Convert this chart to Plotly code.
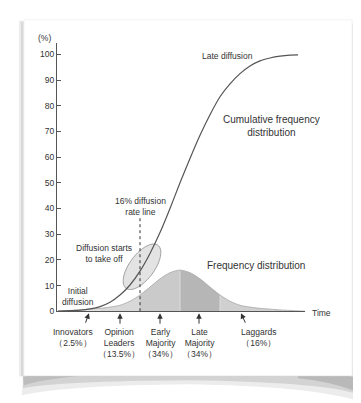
import math
import plotly.graph_objects as go

# ---------------- data ----------------
# time axis in standard-deviation units (0 = mean of adoption time)
cdf_time = [-3.05, -2.75, -2.5, -2.25, -2.0, -1.75, -1.5, -1.25, -1.0, -0.75, -0.5, -0.25,
            0.0, 0.25, 0.5, 0.75, 1.0, 1.25, 1.5, 1.75, 2.0, 2.25, 2.5, 2.75, 2.95]
cdf_pct = [0.0, 0.2, 0.4, 0.9, 1.8, 3.5, 6.3, 10.2, 15.6, 22.5, 30.6, 40.0,
           50.0, 59.5, 68.5, 76.5, 83.5, 88.5, 92.5, 95.5, 97.5, 98.6, 99.3, 99.7, 99.8]

freq_time = [-3.05, -2.75, -2.5, -2.25, -2.0, -1.75, -1.5, -1.25, -1.0, -0.75, -0.5, -0.25,
             0.0, 0.25, 0.5, 0.75, 1.0, 1.25, 1.5, 1.75, 2.0, 2.25, 2.5, 2.75, 3.125]
freq_pct = [0.0, 0.3, 0.5, 0.8, 1.1, 1.6, 2.3, 3.9, 6.3, 9.4, 12.6, 15.0,
            16.0, 15.0, 12.6, 9.4, 6.3, 3.9, 2.3, 1.6, 1.1, 0.8, 0.5, 0.3, 0.0]

segment_edges = [-3.05, -2.0, -1.0, 0.0, 1.0, 3.125]
segment_names = ["Innovators", "Opinion<br>Leaders", "Early<br>Majority", "Late<br>Majority", "Laggards"]
segment_shares = ["（2.5%）", "（13.5%）", "（34%）", "（34%）", "（16%）"]
segment_colors = ["#e2e2e2", "#d8d8d8", "#cacaca", "#b6b6b6", "#d0d0d0"]

y_ticks = [0, 10, 20, 30, 40, 50, 60, 70, 80, 90, 100]
diffusion_line_time = -1.0   # 16% diffusion rate line

# ---------------- geometry helpers ----------------
W, H = 361, 403
X0PX, X1PX = 49, 297
Y0PX, YTOPPX = 307, 35
PX_PER_X = 40.0
PX_PER_Y = 2.6
XMIN = -3.075
XMAX = XMIN + (X1PX - X0PX) / PX_PER_X
YMAX = (Y0PX - YTOPPX) / PX_PER_Y


def px2x(px):
    return XMIN + (px - X0PX) / PX_PER_X


def px2y(py):
    return (Y0PX - py) / PX_PER_Y


def pxp(px):
    return px / W


def pyp(py):
    return 1 - py / H


FONT = "Liberation Sans, Arial, sans-serif"
TXT = "#333333"

fig = go.Figure()

# frequency distribution segments
for i in range(len(segment_names)):
    lo, hi = segment_edges[i], segment_edges[i + 1]
    xs = [t for t in freq_time if lo <= t <= hi]
    ys = [v for t, v in zip(freq_time, freq_pct) if lo <= t <= hi]
    fig.add_trace(go.Scatter(x=xs, y=ys, mode="lines", fill="tozeroy",
                             fillcolor=segment_colors[i],
                             line=dict(width=0, shape="spline", smoothing=0.8),
                             hoverinfo="skip", showlegend=False))

# light separators between segments
for bnd in segment_edges[3:5]:
    idx = freq_time.index(bnd)
    fig.add_trace(go.Scatter(x=[bnd, bnd], y=[0, freq_pct[idx]], mode="lines",
                             line=dict(color="#dcdcdc", width=1),
                             hoverinfo="skip", showlegend=False))

# outline of frequency distribution
fig.add_trace(go.Scatter(x=freq_time, y=freq_pct, mode="lines",
                         line=dict(color="#a8a8a8", width=0.8, shape="spline", smoothing=0.8),
                         hoverinfo="skip", showlegend=False))

# cumulative curve
fig.add_trace(go.Scatter(x=cdf_time, y=cdf_pct, mode="lines",
                         line=dict(color="#555555", width=1.2, shape="spline", smoothing=0.8),
                         hoverinfo="skip", showlegend=False))

shapes = []
# ---- card + shadows (paper coords) ----
shapes.append(dict(type="path", xref="paper", yref="paper", layer="below",
                   path=f"M {pxp(15)},{pyp(372)} L {pxp(345)},{pyp(372)} L {pxp(347)},{pyp(397)} "
                        f"Q {pxp(300)},{pyp(383)} {pxp(180)},{pyp(381)} Q {pxp(60)},{pyp(382)} {pxp(14)},{pyp(392)} Z",
                   fillcolor="#ececec", line=dict(width=0)))
shapes.append(dict(type="path", xref="paper", yref="paper", layer="below",
                   path=f"M {pxp(15)},{pyp(372)} L {pxp(345)},{pyp(372)} L {pxp(346)},{pyp(390)} "
                        f"Q {pxp(310)},{pyp(379)} {pxp(180)},{pyp(377)} Q {pxp(50)},{pyp(378)} {pxp(15)},{pyp(385)} Z",
                   fillcolor="#d3d3d3", line=dict(width=0)))
shapes.append(dict(type="path", xref="paper", yref="paper", layer="below",
                   path=f"M {pxp(290)},{pyp(373)} L {pxp(345)},{pyp(373)} L {pxp(345)},{pyp(387)} "
                        f"Q {pxp(320)},{pyp(378)} {pxp(290)},{pyp(375)} Z",
                   fillcolor="#b9b9b9", line=dict(width=0)))
shapes.append(dict(type="path", xref="paper", yref="paper", layer="below",
                   path=f"M {pxp(15)},{pyp(373)} L {pxp(70)},{pyp(373)} "
                        f"Q {pxp(35)},{pyp(376)} {pxp(16)},{pyp(382)} Z",
                   fillcolor="#bdbdbd", line=dict(width=0)))
shapes.append(dict(type="rect", xref="paper", yref="paper", layer="below",
                   x0=pxp(11), x1=pxp(18), y0=pyp(373), y1=pyp(13),
                   fillcolor="#ececec", line=dict(width=0)))
shapes.append(dict(type="rect", xref="paper", yref="paper", layer="below",
                   x0=pxp(13), x1=pxp(16), y0=pyp(373), y1=pyp(14),
                   fillcolor="#d9d9d9", line=dict(width=0)))
shapes.append(dict(type="rect", xref="paper", yref="paper", layer="below",
                   x0=pxp(342), x1=pxp(350), y0=pyp(373), y1=pyp(15),
                   fillcolor="#eeeeee", line=dict(width=0)))
shapes.append(dict(type="rect", xref="paper", yref="paper", layer="below",
                   x0=pxp(344), x1=pxp(347), y0=pyp(373), y1=pyp(17),
                   fillcolor="#dddddd", line=dict(width=0)))
shapes.append(dict(type="rect", xref="paper", yref="paper", layer="below",
                   x0=pxp(16), x1=pxp(344), y0=pyp(372), y1=pyp(12),
                   fillcolor="#ffffff", line=dict(color="#f3f3f3", width=1)))

# ---- ellipse "diffusion starts to take off" ----
cx, cy, a, b, ang = 134.0, 262.0, 27.0, 12.5, math.radians(54)
pts = []
for k in range(0, 73):
    t = 2 * math.pi * k / 72
    ex = a * math.cos(t)
    ey = b * math.sin(t)
    px = cx + ex * math.cos(ang) - ey * math.sin(ang)
    py = cy - (ex * math.sin(ang) + ey * math.cos(ang))
    pts.append((px2x(px), px2y(py)))
path = "M " + " L ".join(f"{x:.4f},{y:.4f}" for x, y in pts) + " Z"
shapes.append(dict(type="path", xref="x", yref="y", layer="below", path=path,
                   fillcolor="#e3e3e3", line=dict(color="#8c8c8c", width=0.8)))

# ---- 16% diffusion rate line ----
shapes.append(dict(type="line", xref="x", yref="y", layer="above",
                   x0=diffusion_line_time, x1=diffusion_line_time, y0=0, y1=px2y(212),
                   line=dict(color="#333333", width=1, dash="dot")))

ann = []


def label(text, px, py, size=8.5, xanchor="center", yanchor="middle", align="center"):
    ann.append(dict(text=text, x=pxp(px), y=pyp(py), xref="paper", yref="paper",
                    showarrow=False, xanchor=xanchor, yanchor=yanchor, align=align,
                    font=dict(family=FONT, size=size, color=TXT)))


label("(%)", 36, 30)
label("Late diffusion", 219, 49)
label("Cumulative frequency<br>distribution", 263, 119.5, size=10)
label("Frequency distribution", 248, 261, size=10)
label("16% diffusion<br>rate line", 132, 200.5)
label("Diffusion starts<br>to take off", 96, 249)
label("Initial<br>diffusion", 70, 292)
label("Time", 302, 309, xanchor="left")

# bottom labels
label(segment_names[0] + "<br>" + segment_shares[0], 65, 333.5)
label(segment_names[1] + "<br>" + segment_shares[1], 111, 339)
label(segment_names[2] + "<br>" + segment_shares[2], 152, 339)
label(segment_names[3] + "<br>" + segment_shares[3], 191, 339)
label(segment_names[4] + "<br>" + segment_shares[4], 250, 333.5)

# arrows: (tip px, tip py, dx to tail, dy to tail)
for tx, ty, dx, dy in [(81, 309, -4, 11), (112, 309, 0, 12), (152, 309, 0, 12),
                       (191, 309, 0, 12), (233, 309, 5, 11)]:
    ann.append(dict(text="", x=pxp(tx), y=pyp(ty), xref="paper", yref="paper",
                    showarrow=True, ax=dx, ay=dy, arrowhead=2, arrowsize=1.1,
                    arrowwidth=1, arrowcolor="#333333", standoff=0))

fig.update_layout(
    width=W, height=H,
    margin=dict(l=0, r=0, t=0, b=0),
    paper_bgcolor="#ffffff",
    plot_bgcolor="rgba(0,0,0,0)",
    showlegend=False,
    shapes=shapes,
    annotations=ann,
    xaxis=dict(domain=[pxp(X0PX), pxp(X1PX)], range=[XMIN, XMAX],
               showgrid=False, zeroline=False, showticklabels=False, ticks="",
               showline=True, linecolor="#555555", linewidth=1, fixedrange=True),
    yaxis=dict(domain=[pyp(Y0PX), pyp(YTOPPX)], range=[0, YMAX],
               tickvals=y_ticks, ticktext=[str(v) for v in y_ticks],
               ticks="inside", ticklen=4, tickcolor="#555555", tickwidth=1,
               tickfont=dict(family=FONT, size=8.5, color=TXT),
               showgrid=False, zeroline=False,
               showline=True, linecolor="#555555", linewidth=1, fixedrange=True),
)

fig.write_html("out.html")
